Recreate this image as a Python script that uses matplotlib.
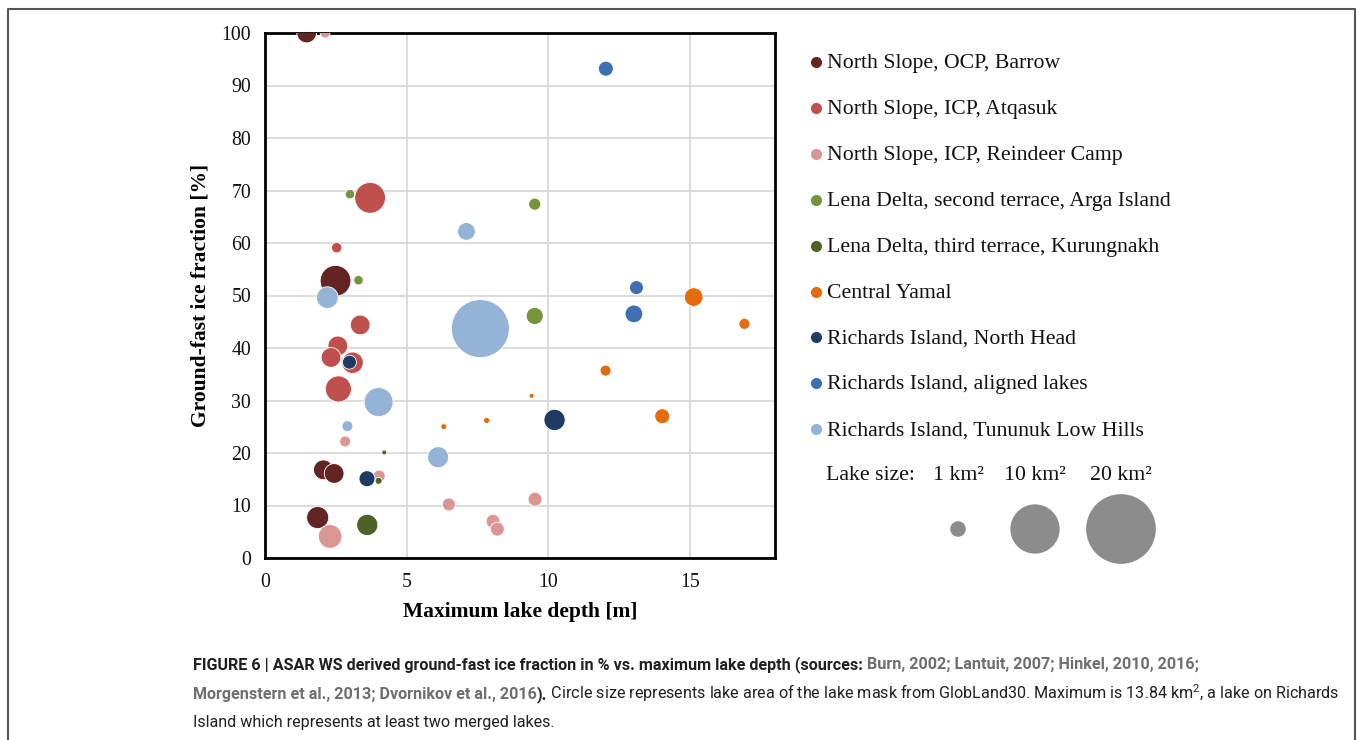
import matplotlib
matplotlib.use('Agg')
import matplotlib.pyplot as plt
from matplotlib import font_manager
import numpy as np

# lake depth [m], ground-fast ice fraction [%], lake area [km2]
barrow_x = [1.47, 2.49, 2.06, 2.44, 1.86]
barrow_y = [100, 52.8, 16.8, 16.1, 7.7]
barrow_a = [1.6, 3.9, 1.6, 1.6, 2.0]

atqasuk_x = [3.71, 2.53, 3.36, 2.57, 2.33, 3.09, 2.59]
atqasuk_y = [68.6, 59.1, 44.4, 40.4, 38.2, 37.2, 32.2]
atqasuk_a = [3.9, 0.45, 1.6, 1.6, 1.6, 1.9, 2.8]

reindeer_x = [2.12, 2.83, 4.03, 6.49, 2.3, 8.05, 8.2, 9.53]
reindeer_y = [100, 22.2, 15.6, 10.2, 4.1, 7.0, 5.5, 11.2]
reindeer_a = [0.4, 0.5, 0.6, 0.7, 2.3, 0.8, 0.8, 0.8]

arga_x = [3.0, 3.3, 9.52, 9.52]
arga_y = [69.3, 52.9, 67.4, 46.1]
arga_a = [0.37, 0.37, 0.6, 1.2]

kurung_x = [4.21, 4.01, 3.61]
kurung_y = [20.1, 14.7, 6.3]
kurung_a = [0.1, 0.2, 1.85]

yamal_x = [6.31, 7.82, 15.13, 16.92, 12.02, 9.41, 14.02]
yamal_y = [25.0, 26.2, 49.7, 44.6, 35.7, 30.9, 27.0]
yamal_a = [0.15, 0.15, 1.43, 0.5, 0.5, 0.1, 0.92]

nhead_x = [2.98, 3.6, 10.22]
nhead_y = [37.3, 15.1, 26.3]
nhead_a = [0.8, 1.05, 1.85]

aligned_x = [12.03, 13.11, 13.02]
aligned_y = [93.2, 51.5, 46.5]
aligned_a = [0.92, 0.8, 1.29]

tununuk_x = [7.11, 2.2, 4.01, 7.6, 2.91, 6.11]
tununuk_y = [62.2, 49.6, 29.7, 43.7, 25.1, 19.2]
tununuk_a = [1.29, 1.93, 3.46, 13.84, 0.5, 1.81]

names = ['North Slope, OCP, Barrow', 'North Slope, ICP, Atqasuk',
         'North Slope, ICP, Reindeer Camp', 'Lena Delta, second terrace, Arga Island',
         'Lena Delta, third terrace, Kurungnakh', 'Central Yamal',
         'Richards Island, North Head', 'Richards Island, aligned lakes',
         'Richards Island, Tununuk Low Hills']
colors = ['#632523', '#c0504d', '#da9694', '#77933c', '#4f6228', '#e46c0a',
          '#1f3b63', '#3f6fb0', '#95b3d7']
groups = [(barrow_x, barrow_y, barrow_a), (atqasuk_x, atqasuk_y, atqasuk_a),
          (reindeer_x, reindeer_y, reindeer_a), (arga_x, arga_y, arga_a),
          (kurung_x, kurung_y, kurung_a), (yamal_x, yamal_y, yamal_a),
          (nhead_x, nhead_y, nhead_a), (aligned_x, aligned_y, aligned_a),
          (tununuk_x, tununuk_y, tununuk_a)]

key_areas = [1, 10, 20]
key_labels = ['1 km\u00b2', '10 km\u00b2', '20 km\u00b2']


def bubble(a):
    return 126.0 * np.asarray(a, dtype=float)


serif = 'Liberation Serif'
have = {f.name for f in font_manager.fontManager.ttflist}
cap_font = 'Liberation Sans Narrow' if 'Liberation Sans Narrow' in have else 'Roboto'
plt.rcParams['mathtext.fontset'] = 'custom'
plt.rcParams['mathtext.rm'] = cap_font

fig = plt.figure(figsize=(13.58, 7.4), dpi=100)
ax = fig.add_axes([265/1358, 1 - 558/740, 510/1358, 525/740])

for (gx, gy, ga), col in zip(groups, colors):
    ax.scatter(gx, gy, s=bubble(ga), color=col, edgecolors='white', linewidths=0.6, zorder=3)

ax.set_xlim(0, 18)
ax.set_ylim(0, 100)
ax.set_xticks([0, 5, 10, 15])
ax.set_yticks(np.arange(0, 101, 10))
ax.grid(True, color='#d9d9d9', linewidth=1.3, zorder=0)
ax.set_axisbelow(True)
for sp in ax.spines.values():
    sp.set_linewidth(2.0)
    sp.set_color('black')
ax.tick_params(axis='both', length=0, labelsize=14.3, colors='#111111')
ax.tick_params(axis='x', pad=11)
ax.tick_params(axis='y', pad=10)
for lab in ax.get_xticklabels() + ax.get_yticklabels():
    lab.set_family(serif)
ax.set_xlabel('Maximum lake depth [m]', fontsize=15.5, fontweight='bold', family=serif, labelpad=7)
ax.set_ylabel('Ground-fast ice fraction [%]', fontsize=15.5, fontweight='bold', family=serif, labelpad=8)

# overlay in pixel units for legend, size key, frame and caption
ov = fig.add_axes([0, 0, 1, 1], zorder=-1)
ov.set_xlim(0, 1358)
ov.set_ylim(740, 0)
ov.axis('off')

leg_size = 15.7
for i, (name, col) in enumerate(zip(names, colors)):
    yy = 62 + i * 45.9
    ov.plot(816, yy, 'o', color=col, ms=7)
    ov.text(827, yy + 1.5, name, va='center', ha='left', fontsize=leg_size, family=serif, color='#111111')

ov.text(826, 475.5, 'Lake size:', va='center', ha='left', fontsize=leg_size, family=serif, color='#111111')
key_x = [958, 1035, 1121]
for kx, kl in zip(key_x, key_labels):
    ov.text(kx, 475.5, kl, va='center', ha='center', fontsize=leg_size, family=serif, color='#111111')
ov.scatter(key_x, [529] * 3, s=bubble(key_areas), color='#8c8c8c', edgecolors='none')

# frame round the figure
ov.plot([7.5, 7.5, 1354.5, 1354.5], [745, 8.5, 8.5, 745], color='#555555', lw=1.5, clip_on=False)

# caption
black = '#231f20'
gray = '#6d6e71'
line1 = [('FIGURE 6 | ASAR WS derived ground-fast ice fraction in % vs. maximum lake depth (sources: ', black, 'bold'),
         ('Burn, 2002; Lantuit, 2007; Hinkel, 2010, 2016;', gray, 'bold')]
line2 = [('Morgenstern et al., 2013; Dvornikov et al., 2016', gray, 'bold'),
         (').', black, 'bold'),
         (' Circle size represents lake area of the lake mask from GlobLand30. Maximum is 13.84 km$^2$, a lake on Richards', black, 'normal')]
line3 = [('Island which represents at least two merged lakes.', black, 'normal')]

rend = fig.canvas.get_renderer()


def run_width(txt, size, wt):
    t = ov.text(0, 0, txt + '|', fontsize=size, fontweight=wt, family=cap_font)
    w = t.get_window_extent(rend).width
    t.remove()
    t = ov.text(0, 0, '|', fontsize=size, fontweight=wt, family=cap_font)
    w -= t.get_window_extent(rend).width
    t.remove()
    return w


base = 12.0
w1 = sum(run_width(t, base, wt) for t, c, wt in line1)
w2 = sum(run_width(t, base, wt) for t, c, wt in line2)
cap_size = min(base * 1115.0 / w1, base * 1147.0 / w2)

for runs, yb in [(line1, 669), (line2, 699), (line3, 727)]:
    x = 193
    for txt, col, wt in runs:
        ov.text(x, yb, txt, fontsize=cap_size, fontweight=wt, color=col, family=cap_font, va='baseline', ha='left')
        x += run_width(txt, cap_size, wt)

fig.savefig('out.png', dpi=100)
